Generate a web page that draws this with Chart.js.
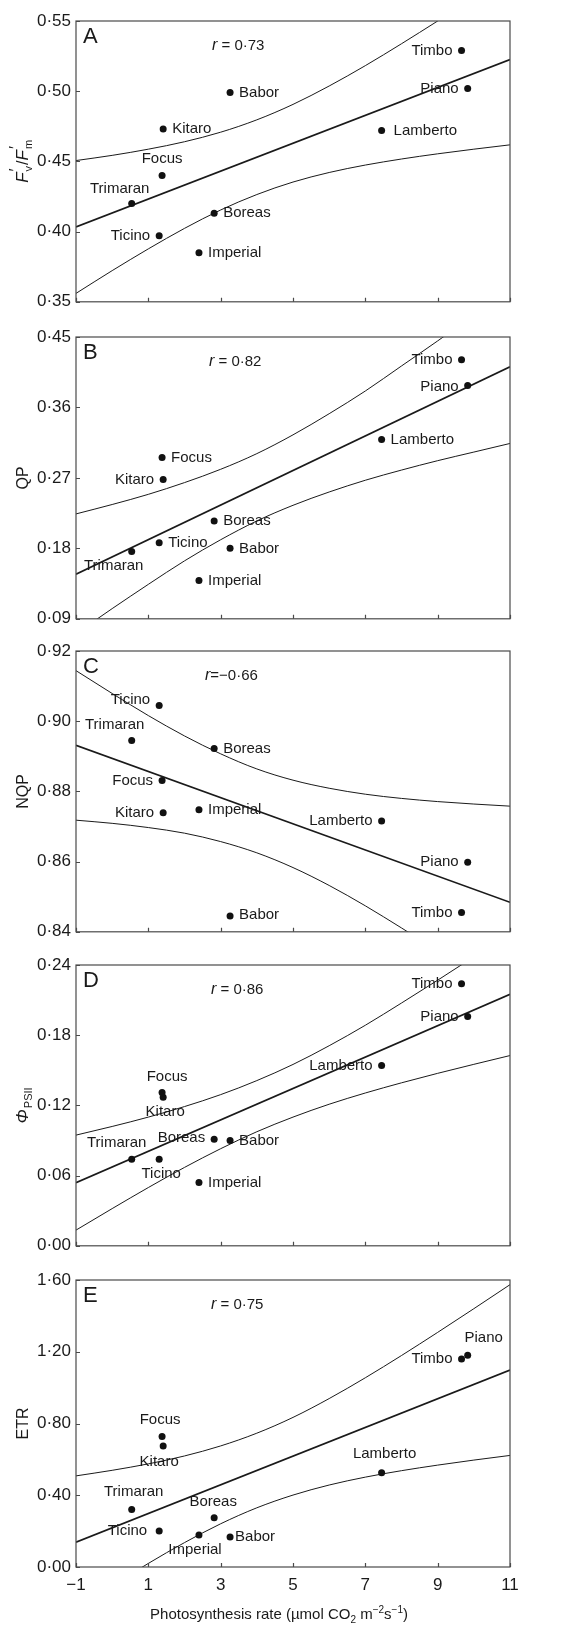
<!DOCTYPE html>
<html>
<head>
<meta charset="utf-8">
<script src="https://cdn.jsdelivr.net/npm/chart.js@4.4.1/dist/chart.umd.min.js"></script>
<style>
  html, body { margin: 0; padding: 0; background: #fff; }
  #wrap { position: relative; width: 568px; height: 1625px; overflow: hidden; }
  #wrap canvas { position: absolute; left: 0; }
</style>
</head>
<body>
<div id="wrap"></div>
<script>
// ---- data -------------------------------------------------------------
const varieties = ['Trimaran', 'Ticino', 'Focus', 'Kitaro', 'Imperial', 'Boreas', 'Babor', 'Lamberto', 'Timbo', 'Piano'];
const photosynthesis = [0.54, 1.30, 1.38, 1.41, 2.40, 2.82, 3.26, 7.45, 9.66, 9.83];

const fvFm    = [0.420, 0.397, 0.440, 0.473, 0.385, 0.413, 0.499, 0.472, 0.529, 0.502];
const qp      = [0.176, 0.187, 0.296, 0.268, 0.139, 0.215, 0.180, 0.319, 0.421, 0.388];
const nqp     = [0.8945, 0.9045, 0.8831, 0.8739, 0.8748, 0.8922, 0.8445, 0.8716, 0.8455, 0.8598];
const phiPSII = [0.074, 0.074, 0.131, 0.127, 0.054, 0.091, 0.090, 0.154, 0.224, 0.196];
const etr     = [0.320, 0.201, 0.727, 0.675, 0.179, 0.275, 0.167, 0.525, 1.159, 1.180];

// regression lines (ends of the x range)
const fitX = [-1, 11];
const fvFmFit = [0.4033, 0.5226];
const qpFit   = [0.147, 0.412];
const nqpFit  = [0.8931, 0.8484];
const phiFit  = [0.054, 0.215];
const etrFit  = [0.138, 1.098];

// confidence bands
const bandX = [-1, 0, 1, 2, 3, 4, 5, 6, 7, 8, 9, 10, 11];
const fvFmUpper = [0.4506, 0.4543, 0.4587, 0.4640, 0.4708, 0.4796, 0.4906, 0.5037, 0.5182, 0.5338, 0.5500, 0.5665, 0.5834];
const fvFmLower = [0.3560, 0.3722, 0.3877, 0.4023, 0.4154, 0.4264, 0.4353, 0.4421, 0.4474, 0.4517, 0.4554, 0.4587, 0.4618];
const qpUpper   = [0.224, 0.236, 0.249, 0.264, 0.281, 0.301, 0.325, 0.352, 0.381, 0.413, 0.445, 0.478, 0.511];
const qpLower   = [0.071, 0.103, 0.134, 0.164, 0.191, 0.215, 0.235, 0.252, 0.267, 0.280, 0.292, 0.303, 0.314];
const nqpUpper  = [0.9144, 0.9079, 0.9016, 0.8958, 0.8907, 0.8864, 0.8832, 0.8809, 0.8792, 0.8780, 0.8771, 0.8764, 0.8758];
const nqpLower  = [0.8718, 0.8709, 0.8697, 0.8681, 0.8657, 0.8625, 0.8583, 0.8532, 0.8474, 0.8411, 0.8346, 0.8279, 0.8210];
const phiUpper  = [0.0946, 0.1020, 0.1100, 0.1190, 0.1292, 0.1412, 0.1550, 0.1710, 0.1885, 0.2075, 0.2270, 0.2470, 0.2670];
const phiLower  = [0.0134, 0.0318, 0.0498, 0.0670, 0.0830, 0.0975, 0.1100, 0.1210, 0.1306, 0.1393, 0.1474, 0.1551, 0.1626];
const etrUpper  = [0.508, 0.539, 0.575, 0.619, 0.675, 0.746, 0.834, 0.939, 1.055, 1.179, 1.308, 1.440, 1.574];
const etrLower  = [-0.233, -0.104, 0.020, 0.136, 0.241, 0.330, 0.401, 0.457, 0.501, 0.537, 0.568, 0.596, 0.622];

// axis ranges and tick spacing
const xRange = [-1, 11], xStep = 2;
const fvFmRange = [0.35, 0.55], fvFmStep = 0.05;
const qpRange   = [0.09, 0.45], qpStep   = 0.09;
const nqpRange  = [0.84, 0.92], nqpStep  = 0.02;
const phiRange  = [0.00, 0.24], phiStep  = 0.06;
const etrRange  = [0.00, 1.60], etrStep  = 0.40;

// correlation coefficients printed in each panel
const rValues = ['0·73', '0·82', '−0·66', '0·86', '0·75'];

// ---- styling / layout --------------------------------------------------
const FAMILY = '"Liberation Sans", Arial, Helvetica, sans-serif';
const INK = '#1a1a1a';
const FRAME = '#4a4a4a';
const PLOT_LEFT = 76, PLOT_RIGHT = 510, PAD_TOP = 16;
const TICK_SIZE = 17;

// where each variety name sits around its dot: side, dx, dy
const placement = {
  A: { Trimaran: ['c', -12, -15], Ticino: ['l', 0, 0], Focus: ['c', 0, -17], Kitaro: ['r', 0, 0], Imperial: ['r', 0, 0],
       Boreas: ['r', 0, 0], Babor: ['r', 0, 0], Lamberto: ['r', 3, 0], Timbo: ['l', 0, 0], Piano: ['l', 0, 0] },
  B: { Trimaran: ['c', -18, 14], Ticino: ['r', 0, 0], Focus: ['r', 0, 0], Kitaro: ['l', 0, 0], Imperial: ['r', 0, 0],
       Boreas: ['r', 0, 0], Babor: ['r', 0, 1], Lamberto: ['r', 0, 0], Timbo: ['l', 0, 0], Piano: ['l', 0, 1] },
  C: { Trimaran: ['c', -17, -16], Ticino: ['l', 0, -6], Focus: ['l', 0, 0], Kitaro: ['l', 0, 0], Imperial: ['r', 0, 0],
       Boreas: ['r', 0, 0], Babor: ['r', 0, -1], Lamberto: ['l', 0, 0], Timbo: ['l', 0, 0], Piano: ['l', 0, 0] },
  D: { Trimaran: ['c', -15, -16], Ticino: ['c', 2, 15], Focus: ['c', 5, -16], Kitaro: ['c', 2, 15], Imperial: ['r', 0, 0],
       Boreas: ['l', 0, -1], Babor: ['r', 0, 0], Lamberto: ['l', 0, 0], Timbo: ['l', 0, 0], Piano: ['l', 0, 0] },
  E: { Trimaran: ['c', 2, -18], Ticino: ['l', -3, 0], Focus: ['c', -2, -17], Kitaro: ['c', -4, 16], Imperial: ['c', -4, 15],
       Boreas: ['c', -1, -16], Babor: ['r', -4, 0], Lamberto: ['c', 3, -19], Timbo: ['l', 0, 0], Piano: ['c', 16, -17] }
};

function font(size, style) { return (style ? style + ' ' : '') + size + 'px ' + FAMILY; }
const F_RG = font(15), F_IT = font(16, 'italic'), F_SM = font(10), F_LBL = font(15);
const F_TT = font(16), F_TTI = font(17, 'italic'), F_TTS = font(11);

const yTitles = {
  A: [{ t: 'F', f: F_TTI }, { t: '′', f: F_TT, dx: 1, dy: -7, adv: false }, { t: 'v', f: F_TTS, dy: 4, dx: 1 },
      { t: '/', f: F_TT, dx: 1 }, { t: 'F', f: F_TTI }, { t: '′', f: F_TT, dx: 1, dy: -7, adv: false }, { t: 'm', f: F_TTS, dy: 4, dx: 1 }],
  B: [{ t: 'QP', f: F_TT }],
  C: [{ t: 'NQP', f: F_TT }],
  D: [{ t: 'Φ', f: F_TTI }, { t: 'PSII', f: F_TTS, dy: 4, dx: 1 }],
  E: [{ t: 'ETR', f: F_TT }]
};
const xTitle = [{ t: 'Photosynthesis rate (µmol CO', f: F_RG }, { t: '2', f: F_SM, dy: 4 }, { t: ' m', f: F_RG },
                { t: '−2', f: F_SM, dy: -6 }, { t: 's', f: F_RG }, { t: '−1', f: F_SM, dy: -6 }, { t: ')', f: F_RG }];
const X_TITLE_CENTER = 279;

function richText(ctx, runs, x, y, align) {
  let w = 0;
  runs.forEach(r => {
    ctx.font = r.f;
    r.w = ctx.measureText(r.t).width;
    if (r.adv !== false) w += r.w + (r.dx || 0);
  });
  let cx = align === 'center' ? x - w / 2 : x;
  runs.forEach(r => {
    ctx.font = r.f;
    ctx.fillText(r.t, cx + (r.dx || 0), y + (r.dy || 0));
    if (r.adv !== false) cx += r.w + (r.dx || 0);
  });
}

const fmtY = v => (Math.round(v * 100) / 100).toFixed(2).replace('.', '·');
const fmtX = v => (v < 0 ? '−' + Math.abs(v) : String(v));

const panels = [
  { id: 'A', top: 21,   h: 286, values: fvFm,    fit: fvFmFit, upper: fvFmUpper, lower: fvFmLower, range: fvFmRange, step: fvFmStep, r: rValues[0], rx: 212, spaced: true },
  { id: 'B', top: 337,  h: 287, values: qp,      fit: qpFit,   upper: qpUpper,   lower: qpLower,   range: qpRange,   step: qpStep,   r: rValues[1], rx: 209, spaced: true },
  { id: 'C', top: 651,  h: 286, values: nqp,     fit: nqpFit,  upper: nqpUpper,  lower: nqpLower,  range: nqpRange,  step: nqpStep,  r: rValues[2], rx: 205, spaced: false },
  { id: 'D', top: 965,  h: 286, values: phiPSII, fit: phiFit,  upper: phiUpper,  lower: phiLower,  range: phiRange,  step: phiStep,  r: rValues[3], rx: 211, spaced: true },
  { id: 'E', top: 1280, h: 287, values: etr,     fit: etrFit,  upper: etrUpper,  lower: etrLower,  range: etrRange,  step: etrStep,  r: rValues[4], rx: 211, spaced: true, last: true }
];

// frame, inward ticks, variety names, panel letter, r and axis titles
const decor = {
  id: 'decor',
  afterDatasetsDraw(chart, args, opts) {
    const p = opts.panel;
    const { ctx, chartArea: a, scales: { x, y } } = chart;
    ctx.save();

    ctx.strokeStyle = FRAME;
    ctx.lineWidth = 1.2;
    ctx.strokeRect(a.left, a.top, a.right - a.left, a.bottom - a.top);
    ctx.beginPath();
    x.ticks.forEach(t => {
      const px = Math.round(x.getPixelForValue(t.value)) + 0.5;
      ctx.moveTo(px, a.bottom); ctx.lineTo(px, a.bottom - 4);
    });
    y.ticks.forEach(t => {
      const py = Math.round(y.getPixelForValue(t.value)) + 0.5;
      ctx.moveTo(a.left, py); ctx.lineTo(a.left + 4, py);
    });
    ctx.stroke();

    ctx.fillStyle = INK;
    ctx.textBaseline = 'middle';
    ctx.font = F_LBL;
    const place = placement[p.id];
    varieties.forEach((name, i) => {
      const px = x.getPixelForValue(photosynthesis[i]);
      const py = y.getPixelForValue(p.values[i]);
      const [side, dx, dy] = place[name];
      if (side === 'r') { ctx.textAlign = 'left'; ctx.fillText(name, px + 9 + dx, py + dy); }
      else if (side === 'l') { ctx.textAlign = 'right'; ctx.fillText(name, px - 9 + dx, py + dy); }
      else { ctx.textAlign = 'center'; ctx.fillText(name, px + dx, py + dy); }
    });

    ctx.textAlign = 'left';
    ctx.font = font(22);
    ctx.fillText(p.id, a.left + 7, a.top + 16);

    ctx.textBaseline = 'alphabetic';
    const sep = p.spaced ? ' = ' : '=';
    richText(ctx, [{ t: 'r', f: F_IT }, { t: sep + p.r, f: F_RG }], p.rx, a.top + 29, 'left');

    ctx.save();
    ctx.translate(22, (a.top + a.bottom) / 2);
    ctx.rotate(-Math.PI / 2);
    richText(ctx, yTitles[p.id], 0, 6, 'center');
    ctx.restore();

    if (p.last) {
      richText(ctx, xTitle, X_TITLE_CENTER, a.bottom + 52, 'center');
    }
    ctx.restore();
  }
};

const wrap = document.getElementById('wrap');

panels.forEach(p => {
  const canvas = document.createElement('canvas');
  const canvasTop = p.top - PAD_TOP;
  const height = p.last ? 1625 - canvasTop : p.h + PAD_TOP + 10;
  canvas.width = 568;
  canvas.height = height;
  canvas.style.top = canvasTop + 'px';
  canvas.style.width = '568px';
  canvas.style.height = height + 'px';
  wrap.appendChild(canvas);

  const xy = (xs, ys) => xs.map((v, i) => ({ x: v, y: ys[i] }));

  new Chart(canvas, {
    type: 'line',
    data: {
      datasets: [
        { data: xy(photosynthesis, p.values), showLine: false, pointRadius: 3.5, pointBackgroundColor: '#111',
          pointBorderWidth: 0, pointStyle: 'circle' },
        { data: xy(fitX, p.fit), borderColor: INK, borderWidth: 1.7, pointRadius: 0, fill: false },
        { data: xy(bandX, p.upper), borderColor: INK, borderWidth: 1, pointRadius: 0, fill: false, cubicInterpolationMode: 'monotone' },
        { data: xy(bandX, p.lower), borderColor: INK, borderWidth: 1, pointRadius: 0, fill: false, cubicInterpolationMode: 'monotone' }
      ]
    },
    options: {
      responsive: false,
      animation: false,
      events: [],
      layout: { padding: { top: PAD_TOP, left: 0, right: 568 - PLOT_RIGHT, bottom: p.last ? 0 : 10 } },
      plugins: { legend: { display: false }, tooltip: { enabled: false }, decor: { panel: p } },
      scales: {
        x: {
          type: 'linear', min: xRange[0], max: xRange[1],
          grid: { display: false, drawTicks: false },
          border: { display: false },
          ticks: {
            display: !!p.last, stepSize: xStep, autoSkip: false, maxRotation: 0, padding: 8,
            color: INK, font: { family: FAMILY, size: TICK_SIZE }, callback: fmtX
          },
          afterFit: s => { s.height = p.last ? (1625 - canvasTop) - (PAD_TOP + p.h) : 0; }
        },
        y: {
          min: p.range[0], max: p.range[1],
          grid: { display: false, drawTicks: false },
          border: { display: false },
          ticks: { stepSize: p.step, padding: 5, color: INK, font: { family: FAMILY, size: TICK_SIZE }, callback: fmtY },
          afterFit: s => { s.width = PLOT_LEFT; }
        }
      }
    },
    plugins: [decor]
  });
});
</script>
</body>
</html>
